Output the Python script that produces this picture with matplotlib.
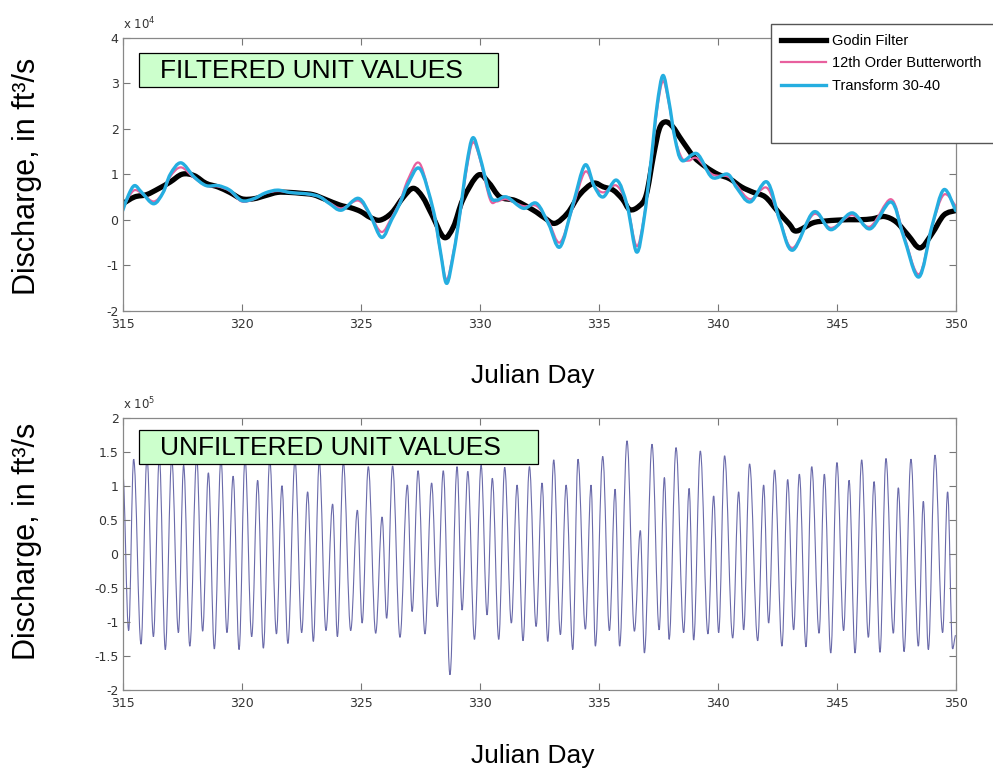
import numpy as np
import matplotlib.pyplot as plt
from matplotlib.patches import Rectangle, PathPatch
from matplotlib.path import Path
from matplotlib.lines import Line2D
from matplotlib.ticker import FormatStrFormatter

plt.rcParams['axes.unicode_minus'] = False

# ---- filtered discharge (x 10^4 ft3/s) ----
godin_day = [315.0, 315.5, 316.0, 316.5, 317.0, 317.5, 318.0, 318.5, 319.0, 319.5,
             320.0, 320.5, 321.0, 321.5, 322.0, 322.5, 323.0, 323.5, 324.13, 324.6,
             325.0, 325.4, 325.81, 326.3, 326.8, 327.21, 327.6, 328.0, 328.5, 328.9,
             329.3, 329.94, 330.4, 330.85, 331.5, 332.25, 332.7, 333.16, 333.7, 334.2,
             334.77, 335.2, 335.61, 336.0, 336.31, 336.7, 337.0, 337.3, 337.55, 337.8,
             338.1, 338.5, 339.0, 339.5, 340.0, 340.5, 341.0, 341.5, 342.0, 342.5,
             343.0, 343.3, 344.0, 344.5, 345.0, 345.5, 346.0, 346.5, 347.0, 347.5,
             348.0, 348.5, 349.0, 349.5, 350.0]
godin_q = [0.35, 0.5, 0.55, 0.68, 0.83, 1.0, 0.97, 0.8, 0.72, 0.6,
           0.46, 0.46, 0.53, 0.6, 0.6, 0.58, 0.55, 0.45, 0.32, 0.26,
           0.18, 0.05, -0.01, 0.15, 0.5, 0.69, 0.5, 0.1, -0.39, -0.15,
           0.45, 0.98, 0.8, 0.5, 0.42, 0.21, 0.05, -0.08, 0.15, 0.55,
           0.8, 0.72, 0.65, 0.45, 0.22, 0.3, 0.55, 1.4, 2.0, 2.15,
           2.05, 1.74, 1.38, 1.16, 1.0, 0.9, 0.72, 0.6, 0.5, 0.2,
           -0.09, -0.25, -0.07, -0.03, -0.01, 0.0, 0.0, 0.02, 0.07, -0.05,
           -0.34, -0.62, -0.31, 0.1, 0.2]

butter_day = [315.0, 315.25, 315.5, 315.8, 316.3, 316.7, 317.0, 317.45, 318.0, 318.5,
              319.0, 319.5, 320.0, 320.5, 321.0, 321.5, 322.0, 322.45, 322.87, 323.29,
              323.7, 324.2, 324.9, 325.4, 325.88, 326.3, 326.65, 327.0, 327.49, 328.05,
              328.35, 328.61, 328.9, 329.17, 329.45, 329.71, 330.0, 330.43, 330.71, 331.13,
              331.83, 332.39, 332.9, 333.37, 333.9, 334.42, 334.8, 335.19, 335.75, 336.2,
              336.59, 336.9, 337.2, 337.45, 337.7, 337.95, 338.2, 338.5, 338.8, 339.13,
              339.76, 340.42, 340.8, 341.37, 342.07, 342.6, 343.15, 344.03, 344.76, 345.64,
              346.41, 347.28, 347.8, 348.45, 349.0, 349.5, 350.0]
butter_q = [0.25, 0.5, 0.65, 0.58, 0.4, 0.6, 0.95, 1.15, 0.92, 0.75,
            0.73, 0.63, 0.4, 0.45, 0.58, 0.63, 0.6, 0.58, 0.55, 0.5,
            0.37, 0.25, 0.42, 0.1, -0.27, 0.05, 0.4, 0.9, 1.23, 0.15,
            -0.7, -1.32, -0.7, 0.1, 1.1, 1.7, 1.35, 0.45, 0.4, 0.45,
            0.3, 0.3, -0.05, -0.5, 0.25, 1.05, 0.75, 0.6, 0.75, 0.3,
            -0.58, 0.05, 1.25, 2.4, 3.05, 2.55, 1.8, 1.35, 1.3, 1.35,
            1.0, 0.95, 0.75, 0.45, 0.7, 0.0, -0.62, 0.12, -0.18, 0.1,
            -0.15, 0.45, -0.3, -1.2, -0.15, 0.55, 0.3]

trans_day = [315.0, 315.25, 315.5, 315.8, 316.3, 316.7, 317.0, 317.45, 318.0, 318.5,
             319.0, 319.5, 320.0, 320.5, 321.0, 321.5, 322.0, 322.45, 322.87, 323.29,
             323.7, 324.2, 324.9, 325.4, 325.88, 326.3, 326.65, 327.0, 327.49, 328.05,
             328.35, 328.61, 328.9, 329.17, 329.45, 329.71, 330.0, 330.43, 330.71, 331.13,
             331.83, 332.39, 332.9, 333.37, 333.9, 334.42, 334.8, 335.19, 335.75, 336.2,
             336.59, 336.9, 337.2, 337.45, 337.7, 337.95, 338.2, 338.5, 339.13, 339.76,
             340.42, 340.8, 341.37, 342.07, 342.6, 343.15, 344.03, 344.76, 345.64, 346.41,
             347.28, 347.8, 348.45, 349.0, 349.5, 350.0]
trans_q = [0.2, 0.55, 0.75, 0.6, 0.35, 0.6, 1.0, 1.25, 0.94, 0.75,
           0.75, 0.65, 0.42, 0.46, 0.59, 0.65, 0.6, 0.58, 0.56, 0.5,
           0.35, 0.21, 0.47, 0.1, -0.39, 0.0, 0.36, 0.8, 1.12, 0.21,
           -0.7, -1.4, -0.75, 0.14, 1.2, 1.8, 1.4, 0.54, 0.43, 0.5,
           0.25, 0.36, -0.1, -0.6, 0.3, 1.2, 0.75, 0.5, 0.87, 0.3,
           -0.71, 0.0, 1.3, 2.5, 3.17, 2.6, 1.8, 1.3, 1.45, 0.93,
           1.0, 0.7, 0.39, 0.83, 0.0, -0.67, 0.17, -0.22, 0.15, -0.2,
           0.39, -0.35, -1.26, -0.15, 0.66, 0.2]

# ---- unfiltered discharge (x 10^5 ft3/s): highs and lows of each tide ----
tide_day = [315.00, 315.25, 315.46, 315.77, 316.02, 316.29, 316.54, 316.79, 317.06, 317.34,
            317.56, 317.82, 318.11, 318.36, 318.60, 318.85, 319.13, 319.38, 319.64, 319.89,
            320.14, 320.42, 320.67, 320.91, 321.18, 321.46, 321.69, 321.94, 322.24, 322.52,
            322.77, 323.01, 323.26, 323.54, 323.82, 324.02, 324.27, 324.58, 324.86, 325.06,
            325.32, 325.63, 325.90, 326.09, 326.34, 326.65, 326.96, 327.16, 327.41, 327.70,
            327.98, 328.22, 328.47, 328.75, 329.05, 329.26, 329.50, 329.78, 330.06, 330.31,
            330.53, 330.80, 331.05, 331.33, 331.57, 331.82, 332.09, 332.37, 332.62, 332.86,
            333.11, 333.39, 333.63, 333.91, 334.13, 334.44, 334.68, 334.86, 335.17, 335.45,
            335.69, 335.88, 336.19, 336.50, 336.75, 336.92, 337.24, 337.54, 337.76, 337.96,
            338.25, 338.57, 338.80, 338.99, 339.27, 339.59, 339.83, 340.04, 340.29, 340.63,
            340.88, 341.09, 341.34, 341.68, 341.93, 342.14, 342.39, 342.70, 342.94, 343.19,
            343.43, 343.71, 343.95, 344.26, 344.48, 344.75, 345.01, 345.29, 345.52, 345.77,
            346.05, 346.33, 346.57, 346.82, 347.07, 347.38, 347.59, 347.83, 348.12, 348.43,
            348.64, 348.85, 349.13, 349.45, 349.66, 349.87, 350.00]
tide_q = [1.20, -1.13, 1.39, -1.33, 1.42, -1.22, 1.42, -1.41, 1.40, -1.16,
          1.30, -1.36, 1.42, -1.14, 1.19, -1.40, 1.40, -1.16, 1.14, -1.41,
          1.40, -1.22, 1.08, -1.39, 1.38, -1.18, 1.00, -1.32, 1.38, -1.16,
          0.91, -1.29, 1.36, -1.13, 0.73, -1.22, 1.35, -1.13, 0.64, -1.02,
          1.28, -1.17, 0.54, -0.95, 1.29, -1.23, 1.01, -0.85, 1.22, -1.18,
          1.04, -0.78, 1.22, -1.78, 1.28, -0.83, 1.21, -1.26, 1.30, -0.90,
          1.11, -1.26, 1.27, -1.02, 1.01, -1.28, 1.28, -1.07, 1.04, -1.29,
          1.38, -1.19, 1.01, -1.41, 1.39, -1.11, 1.01, -1.36, 1.43, -1.13,
          0.95, -1.36, 1.66, -1.14, 0.34, -1.46, 1.61, -1.12, 1.12, -1.26,
          1.56, -1.16, 0.96, -1.27, 1.51, -1.18, 0.85, -1.16, 1.44, -1.24,
          0.91, -1.12, 1.32, -1.28, 1.01, -1.02, 1.23, -1.36, 1.09, -1.12,
          1.17, -1.37, 1.28, -1.17, 1.17, -1.46, 1.34, -1.13, 1.08, -1.46,
          1.38, -1.23, 1.06, -1.45, 1.40, -1.17, 0.97, -1.44, 1.39, -1.36,
          0.77, -1.41, 1.45, -1.16, 0.91, -1.40, -1.20]

x_ticks = [315, 320, 325, 330, 335, 340, 345, 350]
top_yticks = [-2, -1, 0, 1, 2, 3, 4]
bot_yticks = [-2, -1.5, -1, -0.5, 0, 0.5, 1, 1.5, 2]
series_names = ['Godin Filter', '12th Order Butterworth', 'Transform 30-40']

W, H = 993, 770
fig = plt.figure(figsize=(W / 100, H / 100), dpi=100)


def fx(px):
    return px / W


def fy(py):
    return 1 - py / H


def smooth_path(xs, ys):
    # catmull-rom style bezier through the read points
    x = np.asarray(xs, float)
    y = np.asarray(ys, float)
    n = len(x)
    verts = [(x[0], y[0])]
    codes = [Path.MOVETO]
    for i in range(n - 1):
        a = max(i - 1, 0)
        b = min(i + 2, n - 1)
        c1 = (x[i] + (x[i + 1] - x[a]) / 6, y[i] + (y[i + 1] - y[a]) / 6)
        c2 = (x[i + 1] - (x[b] - x[i]) / 6, y[i + 1] - (y[b] - y[i]) / 6)
        verts += [c1, c2, (x[i + 1], y[i + 1])]
        codes += [Path.CURVE4] * 3
    return Path(verts, codes)


def tide_path(xs, ys, k=0.3634):
    # flat tangents at each high / low water
    verts = [(xs[0], ys[0])]
    codes = [Path.MOVETO]
    for i in range(len(xs) - 1):
        dx = xs[i + 1] - xs[i]
        verts += [(xs[i] + k * dx, ys[i]), (xs[i + 1] - k * dx, ys[i + 1]),
                  (xs[i + 1], ys[i + 1])]
        codes += [Path.CURVE4] * 3
    return Path(verts, codes)


def style_axes(ax, yticks, ylim, power):
    ax.set_xlim(315, 350)
    ax.set_ylim(*ylim)
    ax.set_xticks(x_ticks)
    ax.set_yticks(yticks)
    ax.yaxis.set_major_formatter(FormatStrFormatter('%g'))
    ax.tick_params(direction='in', top=True, right=True, length=5, width=0.8,
                   color='#777777', labelsize=9, labelcolor='#333333', pad=3)
    ax.tick_params(axis='x', pad=5)
    for s in ax.spines.values():
        s.set_color('#888888')
        s.set_linewidth(0.9)
    ax.text(0.0, 1.02, r'x 10$^{%d}$' % power, transform=ax.transAxes,
            fontsize=8.5, color='#333333', ha='left', va='bottom')


ax1 = fig.add_axes([fx(122.7), fy(310.7), fx(833), 273 / H])
series = [(godin_day, godin_q, 'black', 3.8),
          (butter_day, butter_q, '#e8609e', 1.6),
          (trans_day, trans_q, '#25aee0', 2.4)]
for d, q, c, lw in series:
    ax1.add_patch(PathPatch(smooth_path(d, q), fill=False, edgecolor=c, lw=lw,
                            capstyle='round', joinstyle='round'))
style_axes(ax1, top_yticks, (-2, 4), 4)

ax2 = fig.add_axes([fx(122.7), fy(689.7), fx(833), 272 / H])
ax2.add_patch(PathPatch(tide_path(tide_day, tide_q), fill=False,
                        edgecolor='#6a6aaa', lw=0.8))
style_axes(ax2, bot_yticks, (-2, 2), 5)

# axis labels
for yc in [176, 541]:
    fig.text(fx(27), fy(yc), 'Discharge, in ft³/s', rotation=90, ha='center',
             va='center', fontsize=22, family='Liberation Sans')
for yc in [376, 756]:
    fig.text(fx(533), fy(yc), 'Julian Day', ha='center', va='center',
             fontsize=19, family='Liberation Sans')

# green title boxes
boxes = [(139.3, 53.3, 498.3, 87.3, 'FILTERED UNIT VALUES'),
         (139.3, 430.0, 537.7, 464.0, 'UNFILTERED UNIT VALUES')]
for x0, y0, x1, y1, txt in boxes:
    fig.add_artist(Rectangle((fx(x0), fy(y1)), fx(x1 - x0), (y1 - y0) / H,
                             transform=fig.transFigure, facecolor='#ccffcc',
                             edgecolor='black', lw=0.9, zorder=3))
    fig.text(fx(x0 + 21), fy((y0 + y1) / 2 + 1), txt, ha='left', va='center',
             fontsize=19, family='Liberation Sans', zorder=4)

# legend frame sticks out past the right edge
fig.add_artist(Rectangle((fx(770.7), fy(142.7)), fx(240), (142.7 - 24.3) / H,
                         transform=fig.transFigure, facecolor='white',
                         edgecolor='#555555', lw=1.0, zorder=3))
handles = [Line2D([], [], color=c, lw=lw) for _, _, c, lw in series]
leg = fig.legend(handles, series_names, loc='upper left',
                 bbox_to_anchor=(fx(780.5), fy(34)), frameon=False,
                 prop={'family': 'Liberation Sans', 'size': 10.5},
                 handlelength=3.1, handletextpad=0.45, labelspacing=0.57,
                 borderpad=0, borderaxespad=0)
leg.set_zorder(5)

fig.savefig('out.png', dpi=100)
